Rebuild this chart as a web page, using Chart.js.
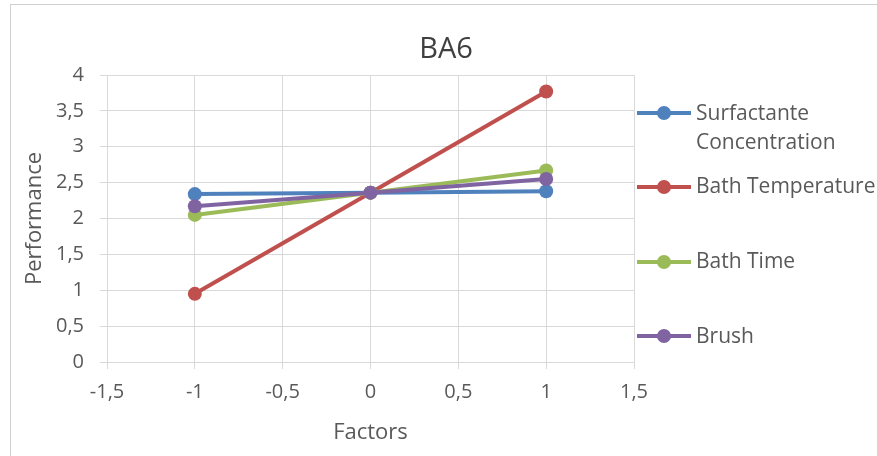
<!DOCTYPE html>
<html>
<head>
<meta charset="utf-8">
<script src="https://cdn.jsdelivr.net/npm/chart.js@4.4.1/dist/chart.umd.min.js"></script>
<style>
  html, body { margin: 0; padding: 0; background: #fff; }
  #wrap { position: relative; width: 877px; height: 456px; }
  #frame { position: absolute; left: 10px; top: 4px; width: 900px; height: 500px; border: 1px solid #d0d0d0; box-sizing: border-box; }
  canvas { position: absolute; left: 0; top: 0; }
</style>
</head>
<body>
<div id="wrap">
  <div id="frame"></div>
  <canvas id="c" width="877" height="456"></canvas>
</div>
<script>
// Factor levels and mean performance per factor
const levels = [-1, 0, 1];
const surfactante = [2.34, 2.36, 2.38];
const bathTemperature = [0.95, 2.36, 3.77];
const bathTime = [2.05, 2.36, 2.67];
const brush = [2.17, 2.36, 2.55];

const seriesNames = [["Surfactante", "Concentration"], ["Bath Temperature"], ["Bath Time"], ["Brush"]];
const seriesColors = ["#4f81bd", "#c0504d", "#9bbb59", "#8064a2"];
// legend marker rows and text baselines
const legendMarkerY = [113, 187, 262, 336];
const legendTextY = [[120, 149], [193], [268], [343]];

const chartTitle = "BA6";
const xTitle = "Factors";
const yTitle = "Performance";

const FONT = "'Open Sans', sans-serif";
const TEXT = "#595959";
const GRID = "#d9d9d9";

function series(values, i) {
  return {
    label: seriesNames[i].join(" "),
    data: levels.map((x, k) => ({ x: x, y: values[k] })),
    borderColor: seriesColors[i],
    backgroundColor: seriesColors[i],
    borderWidth: 4,
    pointRadius: 7,
    pointHoverRadius: 7,
    pointBorderWidth: 0,
    showLine: true,
    tension: 0,
    order: 4 - i
  };
}

// Title and side legend drawn onto the canvas
const decorations = {
  id: "decorations",
  afterDraw(chart) {
    const ctx = chart.ctx;
    ctx.save();
    ctx.fillStyle = "#404040";
    ctx.font = "29px " + FONT;
    ctx.textAlign = "center";
    ctx.textBaseline = "alphabetic";
    ctx.fillText(chartTitle, 446, 58);

    ctx.font = "21px " + FONT;
    ctx.textAlign = "left";
    seriesNames.forEach((lines, i) => {
      const y = legendMarkerY[i];
      ctx.strokeStyle = seriesColors[i];
      ctx.lineWidth = 4;
      ctx.beginPath();
      ctx.moveTo(637, y);
      ctx.lineTo(691, y);
      ctx.stroke();
      ctx.fillStyle = seriesColors[i];
      ctx.beginPath();
      ctx.arc(664, y, 7, 0, Math.PI * 2);
      ctx.fill();
      ctx.fillStyle = TEXT;
      lines.forEach((t, j) => ctx.fillText(t, 696, legendTextY[i][j]));
    });
    ctx.restore();
  }
};

new Chart(document.getElementById("c"), {
  type: "scatter",
  data: {
    datasets: [
      series(surfactante, 0),
      series(bathTemperature, 1),
      series(bathTime, 2),
      series(brush, 3)
    ]
  },
  options: {
    responsive: false,
    animation: false,
    layout: { padding: { left: 0, top: 75, right: 243, bottom: 0 } },
    plugins: { legend: { display: false }, title: { display: false }, tooltip: { enabled: false } },
    scales: {
      x: {
        type: "linear",
        min: -1.5,
        max: 1.5,
        afterFit(s) { s.height = 94; },
        ticks: {
          stepSize: 0.5,
          color: TEXT,
          padding: 11,
          font: { family: FONT, size: 20 },
          callback: v => String(v).replace(".", ",")
        },
        grid: { color: GRID, lineWidth: 1, tickLength: 7, tickColor: GRID },
        border: { color: GRID },
        title: { display: true, text: xTitle, color: TEXT, font: { family: FONT, size: 22 }, padding: { top: 0, bottom: 10 } }
      },
      y: {
        min: 0,
        max: 4,
        afterFit(s) { s.width = 107; },
        ticks: {
          stepSize: 0.5,
          color: TEXT,
          padding: 16,
          font: { family: FONT, size: 20 },
          callback: v => String(v).replace(".", ",")
        },
        grid: { color: GRID, lineWidth: 1, tickLength: 7, tickColor: GRID },
        border: { color: GRID },
        title: { display: true, text: yTitle, color: TEXT, font: { family: FONT, size: 22 }, padding: { top: 22, bottom: 0 } }
      }
    }
  },
  plugins: [decorations]
});
</script>
</body>
</html>
